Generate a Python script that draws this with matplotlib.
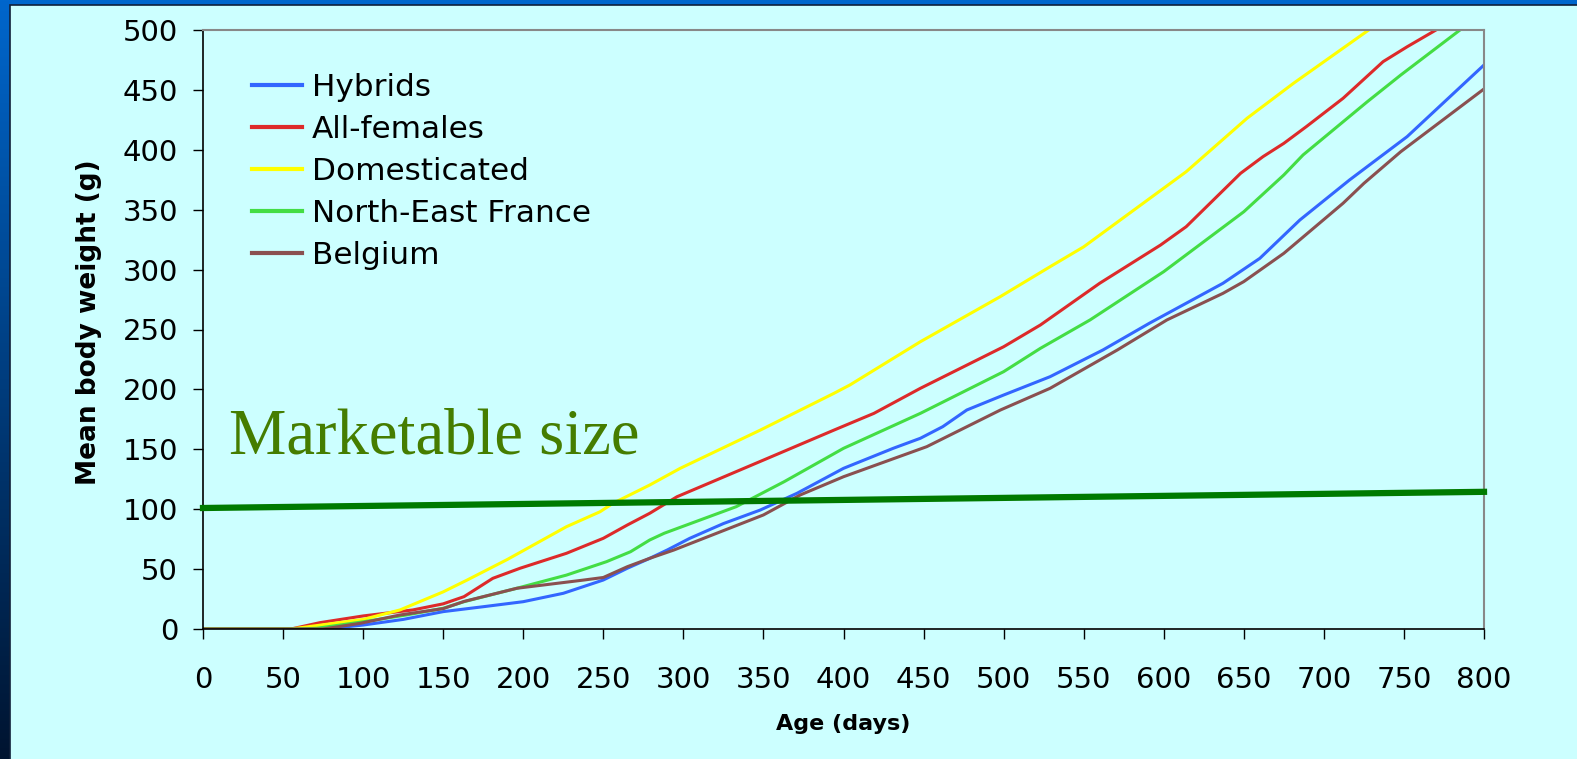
import numpy as np
import matplotlib
matplotlib.use("Agg")
import matplotlib.pyplot as plt
from matplotlib.patches import Rectangle

# Growth curves: age (days) and mean body weight (g) per strain
hybrids_age = [0, 50, 76, 100, 125, 150, 175, 200, 225, 250, 265, 279, 290, 304, 325, 348, 371,
               400, 431, 448, 462, 477, 500, 529, 562, 591, 637, 660, 685, 716, 752, 800]
hybrids_wt = [0, 0, 0, 3.3, 8, 14.5, 18.6, 22.8, 29.8, 40.9, 50.7, 59, 66, 75.7, 88, 99.3, 113.3,
              134.1, 150.8, 159.2, 168.9, 182.8, 195.3, 210.6, 232.9, 255.2, 288.6, 309.4, 341.4,
              374.8, 411, 470.8]

females_age = [0, 55, 73, 100, 131, 150, 163, 181, 198, 227, 250, 265, 279, 296, 350, 394, 419,
               448, 500, 523, 560, 598, 614, 648, 662, 675, 689, 712, 737, 752, 770]
females_wt = [0, 0, 5.3, 10.9, 15.9, 21, 27, 42.3, 50.7, 63.2, 75.7, 86.8, 96.6, 110.4, 141, 166,
              180, 200.9, 235.6, 253.8, 288.6, 320.5, 335.8, 380.4, 394.3, 405.4, 419.3, 443,
              473.6, 486, 500]

domestic_age = [0, 55, 100, 123, 150, 165, 190, 227, 248, 256, 279, 298, 348, 394, 404, 448, 498,
                529, 550, 614, 652, 681, 728]
domestic_wt = [0, 0, 8, 15.9, 31, 40.9, 58, 85.4, 97.9, 104.9, 120.2, 134.1, 166, 196.7, 203.7,
               239.8, 277.5, 302.4, 319, 381.7, 426.3, 455.5, 500]

nefrance_age = [0, 60, 71, 100, 127, 150, 163, 196, 227, 252, 267, 279, 288, 333, 363, 400, 448,
                500, 523, 554, 600, 650, 675, 687, 727, 748, 785]
nefrance_wt = [0, 0, 0.6, 6, 11.7, 17.3, 22.8, 34, 45, 56.2, 64.5, 74.3, 79.9, 102.1, 123, 150.8,
               180, 214.8, 234.3, 258, 298.3, 348.3, 379, 395.7, 440, 462.4, 500]

belgium_age = [0, 75, 98, 123, 150, 163, 196, 238, 250, 265, 279, 294, 350, 373, 400, 452, 498,
               529, 571, 602, 637, 650, 675, 712, 725, 748, 800]
belgium_wt = [0, 0, 4.7, 11.7, 17, 23, 34, 40.9, 43, 52, 59, 65.9, 95.2, 111.9, 127.1, 152.2,
              182.8, 200.9, 232.9, 258, 280.2, 290, 313.6, 355.4, 372, 398.4, 450.8]

series_names = ["Hybrids", "All-females", "Domesticated", "North-East France", "Belgium"]
series_colors = ["#3366FF", "#DD2A2A", "#FFFF00", "#44DD44", "#8A5050"]

# Marketable size threshold line (age, weight) at both ends
market_age = [0, 800]
market_wt = [101, 114.5]

x_ticks = list(range(0, 801, 50))
y_ticks = list(range(0, 501, 50))

W, H = 1577, 759
fig = plt.figure(figsize=(W / 100, H / 100), dpi=100)
fig.patch.set_facecolor("#0066CC")

# Slide background: blue gradient strip on the left, light cyan panel
grad_ax = fig.add_axes([0, 0, 10 / W, 1], zorder=-20)
top_c = np.array([0x00, 0x66, 0xCC]) / 255
bot_c = np.array([0x00, 0x14, 0x30]) / 255
t = np.linspace(0, 1, 256)[:, None, None]
grad = top_c * (1 - t) + bot_c * t
grad_ax.imshow(np.repeat(grad, 2, axis=1), aspect="auto", extent=[0, 1, 0, 1])
grad_ax.axis("off")

fig.patches.append(Rectangle((10 / W, -0.1), 1.2, 1.1 - 5 / H, transform=fig.transFigure,
                             facecolor="#CCFFFF", edgecolor="#10203A", linewidth=1.2,
                             zorder=-15))

ax = fig.add_axes([203 / W, 1 - 629 / H, (1484 - 203) / W, (629 - 30) / H])
ax.set_facecolor("#CCFFFF")

ages = [hybrids_age, females_age, domestic_age, nefrance_age, belgium_age]
weights = [hybrids_wt, females_wt, domestic_wt, nefrance_wt, belgium_wt]
for a, w, name, col in zip(ages, weights, series_names, series_colors):
    ax.plot(a, w, color=col, lw=2.2, label=name, solid_joinstyle="round")

ax.plot(market_age, market_wt, color="#007A00", lw=4.5, clip_on=False, zorder=5)

ax.set_xlim(0, 800)
ax.set_ylim(0, 500)
ax.set_xticks(x_ticks)
ax.set_yticks(y_ticks)
ax.tick_params(axis="both", direction="out", length=7, width=1, color="#000000",
               labelsize=21)
ax.tick_params(axis="y", pad=11)
ax.tick_params(axis="x", pad=20)
for side in ("left", "bottom"):
    ax.spines[side].set_color("#000000")
    ax.spines[side].set_linewidth(1.2)
for side in ("top", "right"):
    ax.spines[side].set_color("#888888")
    ax.spines[side].set_linewidth(1.5)

ax.set_xlabel("Age (days)", fontsize=16, fontweight="bold", labelpad=14)
ax.set_ylabel("Mean body weight (g)", fontsize=19, fontweight="bold")
ax.yaxis.set_label_coords(-0.079, 0.5125)

leg = ax.legend(loc="upper left", bbox_to_anchor=(252 / W, 1 - 73 / H),
                bbox_transform=fig.transFigure, frameon=False, fontsize=22.4,
                handlelength=1.62, handletextpad=0.3, labelspacing=0.42,
                borderpad=0, borderaxespad=0)
for line in leg.get_lines():
    line.set_linewidth(3)

fig.text(229 / W, 1 - 453 / H, "Marketable size", fontsize=46.5, family="Liberation Serif",
         color="#457D00", va="baseline", ha="left")

fig.savefig("out.png", dpi=100, facecolor=fig.get_facecolor())
